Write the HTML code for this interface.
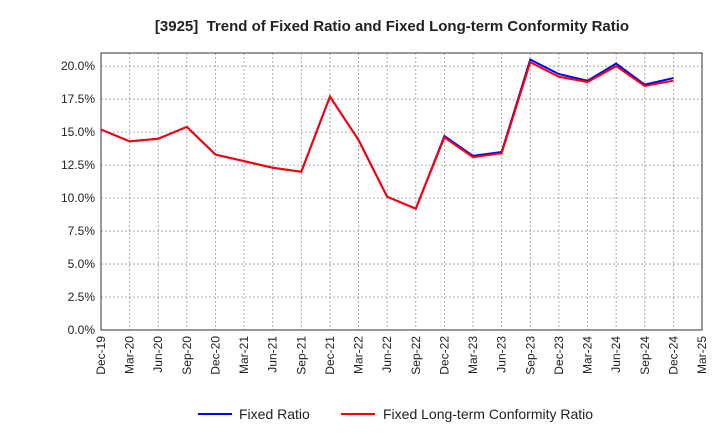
<!DOCTYPE html>
<html><head><meta charset="utf-8"><style>
body{margin:0;background:#fff;font-family:"Liberation Sans",sans-serif}
svg text{font-family:"Liberation Sans",sans-serif}
</style></head><body>
<svg id="chart" width="720" height="440" xmlns="http://www.w3.org/2000/svg">
<text x="392" y="31" text-anchor="middle" font-size="15" font-weight="bold" fill="#222" xml:space="preserve">[3925]  Trend of Fixed Ratio and Fixed Long-term Conformity Ratio</text>
<g id="grid"></g><g id="axes"></g><g id="series"></g>
<g>
<line x1="198" y1="414" x2="232" y2="414" stroke="#0000ff" stroke-width="2"/>
<text x="239" y="419" font-size="14" fill="#222">Fixed Ratio</text>
<line x1="341" y1="414" x2="375" y2="414" stroke="#ff0000" stroke-width="2"/>
<text x="383" y="419" font-size="14" fill="#222">Fixed Long-term Conformity Ratio</text>
</g>
</svg>
<script>
const categories=["Dec-19","Mar-20","Jun-20","Sep-20","Dec-20","Mar-21","Jun-21","Sep-21","Dec-21","Mar-22","Jun-22","Sep-22","Dec-22","Mar-23","Jun-23","Sep-23","Dec-23","Mar-24","Jun-24","Sep-24","Dec-24","Mar-25"];
const fixedRatio=[15.2,14.3,14.5,15.4,13.3,12.8,12.3,12.0,17.7,14.4,10.1,9.2,14.7,13.2,13.5,20.5,19.4,18.9,20.2,18.6,19.1];
const conformityRatio=[15.2,14.3,14.5,15.4,13.3,12.8,12.3,12.0,17.7,14.4,10.1,9.2,14.6,13.1,13.4,20.3,19.2,18.8,20.0,18.5,18.9];
const yTicks=[0,2.5,5,7.5,10,12.5,15,17.5,20];
const L=101,R=702,T=53,B=330,YMAX=21;
const NS="http://www.w3.org/2000/svg";
const xs=i=>L+i*(R-L)/(categories.length-1);
const ys=v=>B-v/YMAX*(B-T);
function mk(tag,attrs,parent){const e=document.createElementNS(NS,tag);for(const k in attrs)e.setAttribute(k,attrs[k]);parent.appendChild(e);return e;}
const grid=document.getElementById('grid'),axes=document.getElementById('axes'),ser=document.getElementById('series');
categories.forEach((c,i)=>{
 const x=xs(i);
 const g=mk('line',{x1:x,y1:T,x2:x,y2:B,stroke:'#999','stroke-dasharray':'2,2','stroke-width':0.8},grid);
 
 
 const t=mk('text',{x:x+4,y:B+6,'font-size':12,fill:'#222','text-anchor':'end',transform:`rotate(-90 ${x+4} ${B+6})`},axes);
 t.textContent=c;
 
 
});
yTicks.forEach(v=>{
 const y=ys(v);
 const g=mk('line',{x1:L,y1:y,x2:R,y2:y,stroke:'#999','stroke-dasharray':'2,2','stroke-width':0.8},grid);
 
 
 const t=mk('text',{x:L-6,y:y+4,'font-size':12,fill:'#222','text-anchor':'end'},axes);
 t.textContent=v.toFixed(1)+'%';
 
 
});
const frame=mk('rect',{x:L,y:T,width:R-L,height:B-T,fill:'none',stroke:'#333','stroke-width':1},axes);


function line(data,color,name){
 const p=mk('polyline',{points:data.map((v,i)=>xs(i)+','+ys(v)).join(' '),fill:'none',stroke:color,'stroke-width':2},ser);
 
 
}
line(fixedRatio,'#0000ff','fixed-ratio-line');
line(conformityRatio,'#ff0000','conformity-ratio-line');
</script>
</body></html>
